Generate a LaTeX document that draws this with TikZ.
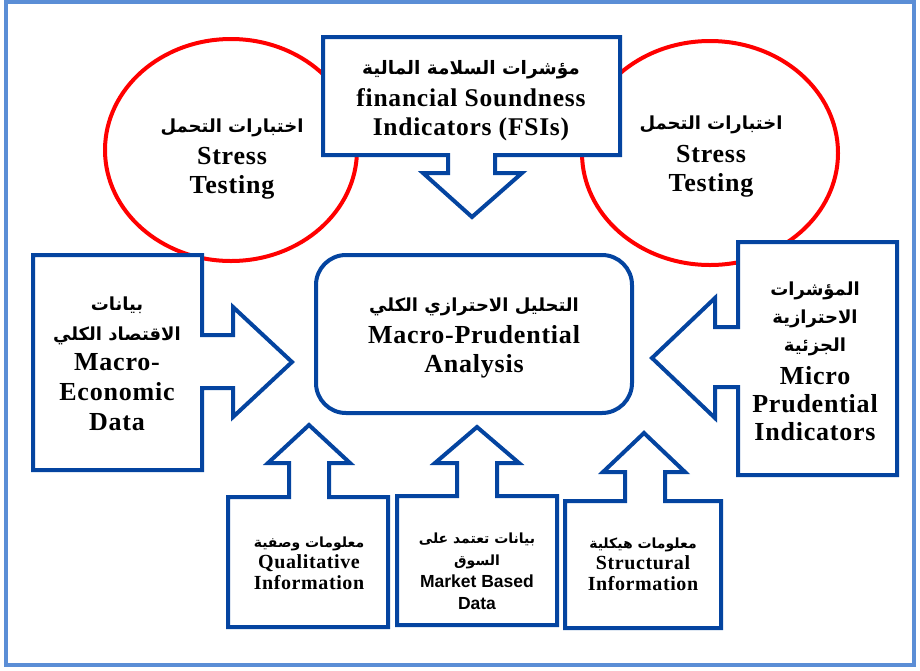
\documentclass[tikz,border=0pt]{standalone}
\usepackage{fontspec}
\setmainfont{Liberation Serif}[LetterSpace=3]
\newfontfamily\arabicfont[Script=Arabic]{DejaVu Sans}
\newfontfamily\arialfont{Liberation Sans}
\TeXXeTstate=1
\usetikzlibrary{positioning}

\definecolor{boxblue}{RGB}{4,68,160}
\definecolor{frameblue}{RGB}{91,142,214}

% Arabic font at a given size
\newcommand{\arsize}[1]{\arabicfont\bfseries\fontsize{#1}{#1}\selectfont}

\tikzset{
	callout/.style={draw=boxblue, line width=4pt, fill=white, line join=miter},
	stress/.style={draw=red, line width=4pt},
	biglbl/.style={align=center, inner sep=0pt, font=\bfseries\fontsize{26}{29}\selectfont},
	smalllbl/.style={align=center, inner sep=0pt, font=\bfseries\fontsize{20}{21}\selectfont},
}

\begin{document}
\begin{tikzpicture}[x=1pt, y=-1pt]
		\useasboundingbox (0,0) rectangle (920,670);
		\draw[frameblue, line width=3.5pt] (6,2) rectangle (914,665);

		% stress testing circles
		\draw[stress] (231,150) ellipse [x radius=126, y radius=111];
		\draw[stress] (710,153) ellipse [x radius=128, y radius=112];
		\node[biglbl] (stressL) at (232,159) {{\arsize{18}\beginR اختبارات التحمل\endR}\\[3pt]Stress\\Testing};
		\node[biglbl] (stressR) at (711,157) {{\arsize{18}\beginR اختبارات التحمل\endR}\\[4pt]Stress\\Testing};

		% top callout
		\draw[callout] (323,37) -- (620,37) -- (620,155) -- (495,155) -- (495,173) -- (522,173)
			-- (472,217) -- (423,173) -- (448,173) -- (448,155) -- (323,155) -- cycle;
		\node[biglbl, font=\bfseries\fontsize{25.5}{29}\selectfont] (fsi) at (471,101)
			{{\arsize{18.5}\beginR مؤشرات السلامة المالية\endR}\\[3pt]financial Soundness\\Indicators (FSIs)};

		% side callouts
		\draw[callout] (33,255) -- (202,255) -- (202,335) -- (233,335) -- (233,307) -- (292,362)
			-- (233,417) -- (233,388) -- (202,388) -- (202,470) -- (33,470) -- cycle;
		\node[biglbl, font=\bfseries\fontsize{26}{30}\selectfont] (macro) at (117,364)
			{{\arsize{18}\beginR بيانات\endR}\\{\arsize{18}\beginR الاقتصاد الكلي\endR}\\Macro-\\Economic\\Data};
		\draw[callout] (897,242) -- (738,242) -- (738,327) -- (715,327) -- (715,298) -- (652,358)
			-- (715,418) -- (715,387) -- (738,387) -- (738,475) -- (897,475) -- cycle;
		\node[biglbl, font=\bfseries\fontsize{26}{28}\selectfont] (micro) at (815,361)
			{{\arsize{18}\beginR المؤشرات\endR}\\{\arsize{18}\beginR الاحترازية\endR}\\{\arsize{18}\beginR الجزئية\endR}\\[5pt]Micro\\Prudential\\Indicators};

		% centre
		\draw[boxblue, line width=4pt, rounded corners=30pt] (316,255) rectangle (632,413);
		\node[biglbl] (analysis) at (474,338) {{\arsize{18}\beginR التحليل الاحترازي الكلي\endR}\\[3pt]Macro-Prudential\\Analysis};

		% bottom callouts
		\draw[callout] (228,627) -- (228,497) -- (289,497) -- (289,463) -- (268,463) -- (309,425)
			-- (350,463) -- (329,463) -- (329,497) -- (388,497) -- (388,627) -- cycle;
		\node[smalllbl] (quali) at (309,563) {{\arsize{14}\beginR معلومات وصفية\endR}\\Qualitative\\Information};
		\draw[callout] (397,625) -- (397,496) -- (457,496) -- (457,463) -- (435,463) -- (477,427)
			-- (519,463) -- (497,463) -- (497,496) -- (557,496) -- (557,625) -- cycle;
		\node[smalllbl, font=\arialfont\bfseries\fontsize{17.5}{22}\selectfont] (market) at (477,571)
			{{\arsize{14}\beginR بيانات تعتمد على\endR}\\{\arsize{14}\beginR السوق\endR}\\Market Based\\Data};
		\draw[callout] (565,628) -- (565,501) -- (625,501) -- (625,472) -- (603,472) -- (644,433)
			-- (685,472) -- (665,472) -- (665,501) -- (721,501) -- (721,628) -- cycle;
		\node[smalllbl] (struct) at (643,564) {{\arsize{14}\beginR معلومات هيكلية\endR}\\Structural\\Information};
	\end{tikzpicture}
\end{document}
